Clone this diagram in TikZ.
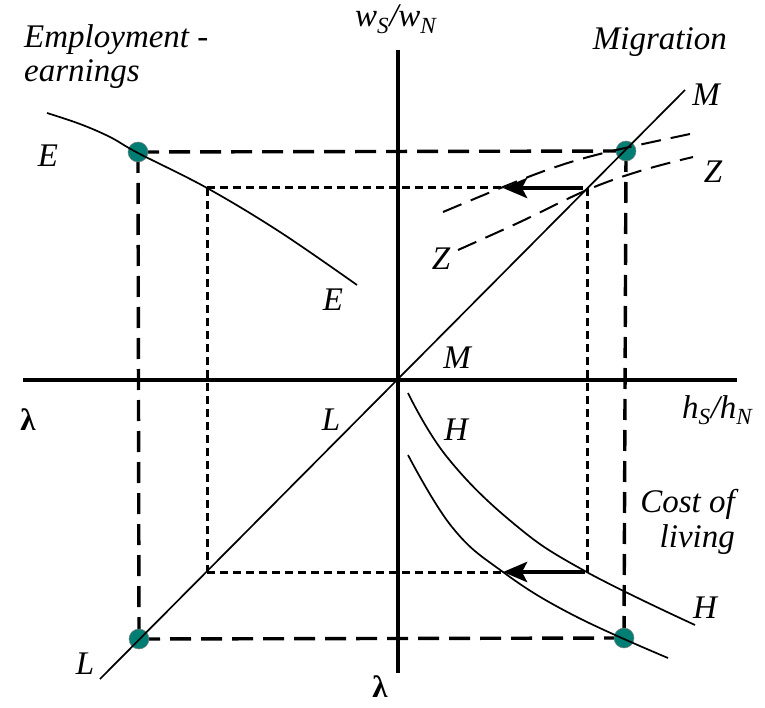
\documentclass[tikz,border=0pt]{standalone}
\usepackage{fontspec}
\setmainfont{Liberation Serif}
\newfontfamily\labfont{Liberation Serif}
\usetikzlibrary{arrows.meta}
\definecolor{dotteal}{RGB}{0,126,116}
\tikzset{
  axisline/.style={line width=3.2pt},
  bigdash/.style={line width=3.4pt, dash pattern=on 21pt off 10pt},
  smalldash/.style={line width=3pt, dash pattern=on 8pt off 5pt},
  zcurve/.style={line width=2pt, dash pattern=on 20pt off 10pt},
  curveline/.style={line width=1.7pt},
  shiftarrow/.style={line width=4.5pt, -{Stealth[length=24pt,width=20pt,inset=5pt]}},
  eqdot/.style={circle, fill=dotteal, draw=black!50, line width=0.5pt, minimum size=20pt, inner sep=0pt},
  lab/.style={font=\labfont\fontsize{33}{38}\selectfont\itshape, inner sep=0pt},
  lam/.style={font=\labfont\fontsize{31}{36}\selectfont\bfseries, inner sep=0pt},
}
\begin{document}
\begin{tikzpicture}[x=1pt,y=-1pt]
\useasboundingbox (0,0) rectangle (765,708);
% axes
\coordinate (O) at (398,380);
\coordinate (vtop) at (398,50);
\coordinate (vbot) at (398,673);
\coordinate (hleft) at (23,380);
\coordinate (hright) at (737,380);
\draw[axisline] (vtop) -- (vbot);
\draw[axisline] (hleft) -- (hright);
% equilibrium points
\coordinate (pTL) at (138,152);
\coordinate (pTR) at (626,151);
\coordinate (pBL) at (139,639);
\coordinate (pBR) at (624,638);
% big dashed rectangle
\draw[bigdash] (pTL) -- (pTR);
\draw[bigdash] (pTL) -- (pBL);
\draw[bigdash] (pTR) -- (pBR);
\draw[bigdash] (pBL) -- (pBR);
% equilibrium dots
\node[eqdot] (dTL) at (pTL) {};
\node[eqdot] (dTR) at (pTR) {};
\node[eqdot] (dBL) at (pBL) {};
\node[eqdot] (dBR) at (pBR) {};
% small dotted rectangle
\coordinate (sTL) at (207,188);
\coordinate (sTR) at (587,188);
\coordinate (sBL) at (207,572);
\coordinate (sBR) at (587,572);
\coordinate (aTop) at (503,188);
\coordinate (aBot) at (503,572);
\draw[smalldash] (sTL) -- (aTop);
\draw[smalldash] (sTL) -- (sBL);
\draw[smalldash] (sTR) -- (sBR);
\draw[smalldash] (sBL) -- (aBot);
% 45-degree line L-M
\coordinate (Mend) at (685,90);
\coordinate (Lend) at (100,679);
\draw[curveline] (Lend) -- (Mend);
% E curve
\draw[curveline] plot[smooth, tension=0.6] coordinates {(47,113) (80,124) (110,137) (138,153) (207,188) (280,232) (357,285)};
% Z curves
\coordinate (zu1) at (443,212);
\coordinate (zu2) at (690,134);
\draw[zcurve] (zu1) .. controls (567,160) .. (zu2);
\draw[zcurve] plot[smooth, tension=0.6] coordinates {(458,250) (520,222) (587,190) (640,171) (693,157)};
% H curves
\draw[curveline] plot[smooth, tension=0.7] coordinates {(408,393) (447,457) (513,523) (583,570) (695,625)};
\draw[curveline] plot[smooth, tension=0.7] coordinates {(408,455) (452,527) (503,572) (573,615) (668,658)};
% shift arrows
\coordinate (tTail) at (583,188);
\coordinate (bTail) at (585,572);
\draw[shiftarrow] (tTail) -- (aTop);
\draw[shiftarrow] (bTail) -- (aBot);
% labels
\node[lab, anchor=base west] (t1) at (24,48) {Employment -};
\node[lab, anchor=base west] (t2) at (24,82) {earnings};
\node[lab, anchor=base east] (t3) at (727,50) {Migration};
\node[lab, anchor=base east] (t4) at (735,512) {Cost of};
\node[lab, anchor=base east] (t5) at (735,547) {living};
\node[lab, anchor=base west] (ws) at (355,27) {w\textsubscript{S}/w\textsubscript{N}};
\node[lab, anchor=base west] (hs) at (682,418) {h\textsubscript{S}/h\textsubscript{N}};
\node[lab] (E1) at (48,156) {E};
\node[lab] (E2) at (333,300) {E};
\node[lab] (M1) at (706,95) {M};
\node[lab] (M2) at (457,358) {M};
\node[lab] (Z1) at (713,172) {Z};
\node[lab] (Z2) at (441,259) {Z};
\node[lab] (H1) at (456,430) {H};
\node[lab] (H2) at (705,608) {H};
\node[lab] (L1) at (331,420) {L};
\node[lab] (L2) at (85,664) {L};
\node[lam] (lam1) at (28,420) {λ};
\node[lam] (lam2) at (380,687) {λ};
\end{tikzpicture}
\end{document}
